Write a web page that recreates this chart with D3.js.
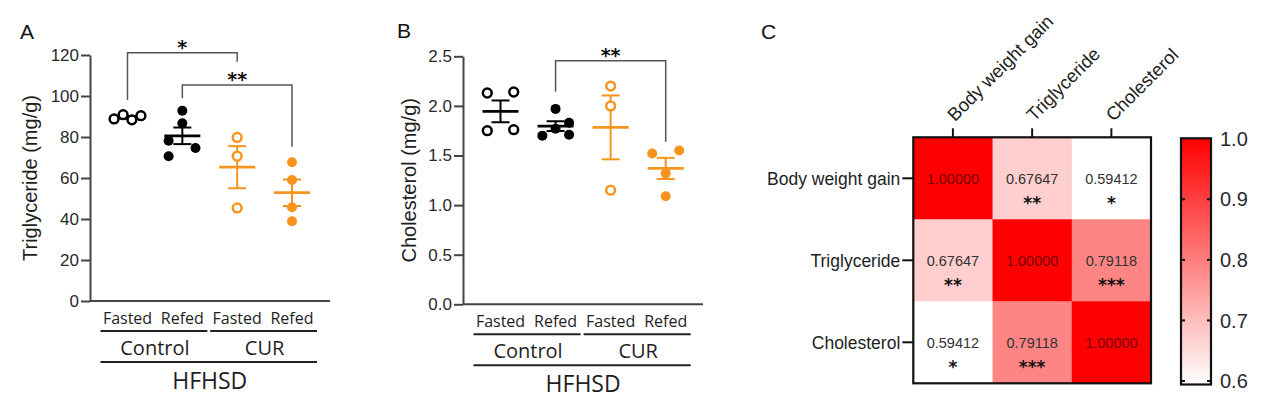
<!DOCTYPE html>
<html><head><meta charset="utf-8">
<script src="https://cdn.jsdelivr.net/npm/d3@7"></script>
<style>
html,body{margin:0;padding:0;background:#fff;}
svg{display:block;}
</style></head>
<body>
<svg id="chart" width="1272" height="410"></svg>
<script>
// ---------------- DATA ----------------
const groupLabels = ["Fasted", "Refed", "Fasted", "Refed"];
const treatmentLabels = ["Control", "CUR"];
const dietLabel = "HFHSD";

// Panel A: Triglyceride (mg/g)
const tgControlFasted = [88.8, 90.9, 88.4, 90.4];
const tgControlRefed  = [92.8, 86.7, 78.2, 74.6, 70.6];
const tgCurFasted     = [79.8, 70.6, 45.4];
const tgCurRefed      = [67.7, 59.0, 45.7, 38.9];
const tgTicks = [0, 20, 40, 60, 80, 100, 120];

// Panel B: Cholesterol (mg/g)
const chControlFasted = [2.13, 2.14, 1.75, 1.76];
const chControlRefed  = [1.97, 1.70, 1.77, 1.83, 1.71];
const chCurFasted     = [2.20, 2.00, 1.15];
const chCurRefed      = [1.52, 1.55, 1.32, 1.09];
const chTicks = [0, 0.5, 1.0, 1.5, 2.0, 2.5];

// Significance brackets: [fromGroup, toGroup, barValue, leftEnd, rightEnd, label]
const tgBrackets = [[0, 2, 121.1, 98.0, 116.7, "*"], [1, 3, 105.4, 98.9, 75.3, "**"]];
const chBrackets = [[1, 3, 2.456, 2.143, 1.639, "**"]];

// Panel C: correlation heatmap
const corrVars = ["Body weight gain", "Triglyceride", "Cholesterol"];
const corrValues = [
  [1.00000, 0.67647, 0.59412],
  [0.67647, 1.00000, 0.79118],
  [0.59412, 0.79118, 1.00000]
];
const corrStars = [
  ["", "**", "*"],
  ["**", "", "***"],
  ["*", "***", ""]
];
const colorTicks = [0.6, 0.7, 0.8, 0.9, 1.0];

// ---------------- LAYOUT / STYLE ----------------
const AX_FONT = "'Liberation Sans', Arial, Helvetica, sans-serif";
const CAT_FONT = "'Open Sans', 'Noto Sans', sans-serif";
const STAR_FONT = "'DejaVu Sans', sans-serif";
const ORANGE = "#f7941d";
const AXIS_COL = "#444";
const TXT = "#1e1e1e";
// jitter (fraction of group step) for the scatter layout
const jitterA = [[-0.245, -0.08, 0.08, 0.245], [0, 0, -0.25, 0.24, -0.25], [0, 0, 0], [0, 0, 0, 0]];
const jitterB = [[-0.24, 0.24, -0.24, 0.24], [0, -0.24, 0, 0.245, 0.245], [0, 0, 0], [-0.245, 0.245, 0, 0]];
const groupStyle = [
  {color: "#000", open: true},
  {color: "#000", open: false},
  {color: ORANGE, open: true},
  {color: ORANGE, open: false}
];

const svg = d3.select("#chart");

function panelLetter(txt, x, y) {
  svg.append("text").attr("x", x).attr("y", y).text(txt)
    .attr("font-family", AX_FONT).attr("font-size", 21).attr("fill", "#111");
}

function scatterPanel(cfg) {
  const g = svg.append("g");
  const y = d3.scaleLinear().domain(cfg.domain).range([cfg.y0, cfg.y1]);
  const x = d3.scalePoint().domain([0, 1, 2, 3]).range([cfg.xFirst, cfg.xLast]);
  const step = x.step();

  // y axis
  const ax = g.append("g").attr("transform", `translate(${cfg.axisX},0)`)
    .call(d3.axisLeft(y).tickValues(cfg.ticks).tickSize(9).tickSizeOuter(0).tickPadding(2).tickFormat(cfg.fmt));
  ax.select(".domain").attr("stroke", AXIS_COL).attr("stroke-width", 2);
  ax.selectAll(".tick line").attr("stroke", AXIS_COL).attr("stroke-width", 2);
  ax.selectAll(".tick text").attr("font-family", AX_FONT).attr("font-size", 17).attr("fill", "#2a2a2a");
  // x axis line
  g.append("line").attr("x1", cfg.axisX).attr("x2", cfg.axisXEnd)
    .attr("y1", y(cfg.domain[0])).attr("y2", y(cfg.domain[0]))
    .attr("stroke", AXIS_COL).attr("stroke-width", 2);

  // y label
  g.append("text")
    .attr("transform", `translate(${cfg.labelX},${(cfg.y0 + cfg.y1) / 2}) rotate(-90)`)
    .attr("text-anchor", "middle").attr("font-family", AX_FONT).attr("font-size", 20)
    .attr("fill", TXT).text(cfg.yLabel);

  // mean +/- SEM
  cfg.series.forEach((vals, i) => {
    const c = groupStyle[i].color;
    const m = d3.mean(vals);
    const sem = d3.deviation(vals) / Math.sqrt(vals.length);
    const cx = x(i);
    const eg = g.append("g").attr("stroke", c).attr("fill", "none");
    eg.append("line").attr("x1", cx).attr("x2", cx).attr("y1", y(m - sem)).attr("y2", y(m + sem)).attr("stroke-width", 2);
    eg.append("line").attr("x1", cx - 9).attr("x2", cx + 9).attr("y1", y(m + sem)).attr("y2", y(m + sem)).attr("stroke-width", 2);
    eg.append("line").attr("x1", cx - 9).attr("x2", cx + 9).attr("y1", y(m - sem)).attr("y2", y(m - sem)).attr("stroke-width", 2);
    eg.append("line").attr("x1", cx - 18).attr("x2", cx + 18).attr("y1", y(m)).attr("y2", y(m)).attr("stroke-width", 2.8);
  });

  // points
  cfg.series.forEach((vals, i) => {
    const st = groupStyle[i];
    g.selectAll(null).data(vals).enter().append("circle")
      .attr("cx", (d, j) => x(i) + cfg.jitter[i][j] * step)
      .attr("cy", d => y(d))
      .attr("r", st.open ? 4.4 : 5.0)
      .attr("fill", st.open ? "#fff" : st.color)
      .attr("stroke", st.open ? st.color : "none")
      .attr("stroke-width", st.open ? 2.5 : 0);
  });

  // brackets
  cfg.brackets.forEach(b => {
    const [a, c, top, le, re, lab] = b;
    g.append("path")
      .attr("d", `M${x(a)},${y(le)}V${y(top)}H${x(c)}V${y(re)}`)
      .attr("fill", "none").attr("stroke", "#555").attr("stroke-width", 1.5);
    g.append("text").attr("x", (x(a) + x(c)) / 2).attr("y", y(top) + 1.5)
      .attr("text-anchor", "middle").attr("font-family", STAR_FONT).attr("font-size", 19)
      .attr("font-weight", "bold").attr("fill", "#111").text(lab);
  });

  // category labels below
  const base = y(cfg.domain[0]);
  g.selectAll(null).data(groupLabels).enter().append("text")
    .attr("x", (d, i) => x(i)).attr("y", base + 23)
    .attr("text-anchor", "middle").attr("font-family", CAT_FONT).attr("font-size", 16)
    .attr("fill", TXT).text(d => d);
  treatmentLabels.forEach((t, k) => {
    const xa = x(2 * k), xb = x(2 * k + 1);
    g.append("line").attr("x1", xa - 27).attr("x2", xb + 25).attr("y1", base + 30).attr("y2", base + 30)
      .attr("stroke", "#222").attr("stroke-width", 2);
    g.append("text").attr("x", (xa + xb) / 2).attr("y", base + 54)
      .attr("text-anchor", "middle").attr("font-family", CAT_FONT).attr("font-size", 20)
      .attr("fill", TXT).text(t);
  });
  g.append("line").attr("x1", x(0) - 27).attr("x2", x(3) + 25).attr("y1", base + 61).attr("y2", base + 61)
    .attr("stroke", "#222").attr("stroke-width", 2);
  g.append("text").attr("x", (x(0) + x(3)) / 2).attr("y", base + 88)
    .attr("text-anchor", "middle").attr("font-family", CAT_FONT).attr("font-size", 23)
    .attr("fill", TXT).text(dietLabel);
}

// Panel A
panelLetter("A", 20, 39);
scatterPanel({
  domain: [0, 120], y0: 301, y1: 55, axisX: 90, axisXEnd: 330,
  xFirst: 127.5, xLast: 292, ticks: tgTicks, fmt: d3.format("d"),
  labelX: 37, yLabel: "Triglyceride (mg/g)",
  series: [tgControlFasted, tgControlRefed, tgCurFasted, tgCurRefed],
  jitter: jitterA, brackets: tgBrackets
});

// Panel B
panelLetter("B", 397, 38);
scatterPanel({
  domain: [0, 2.5], y0: 304.3, y1: 56.3, axisX: 463, axisXEnd: 703,
  xFirst: 500.5, xLast: 665.7, ticks: chTicks, fmt: d3.format(".1f"),
  labelX: 416, yLabel: "Cholesterol (mg/g)",
  series: [chControlFasted, chControlRefed, chCurFasted, chCurRefed],
  jitter: jitterB, brackets: chBrackets
});

// Panel C
panelLetter("C", 761, 39);
(function heatmap() {
  const g = svg.append("g");
  const hx = d3.scaleBand().domain(corrVars).range([913.3, 1151]);
  const hy = d3.scaleBand().domain(corrVars).range([137.3, 383.3]);
  const color = d3.scaleLinear().domain([0.6, 1.0]).range(["#ffffff", "#ff0000"]).clamp(true);

  const cells = [];
  corrValues.forEach((row, i) => row.forEach((v, j) => cells.push({r: corrVars[i], c: corrVars[j], v, s: corrStars[i][j]})));

  g.selectAll(null).data(cells).enter().append("rect")
    .attr("x", d => hx(d.c)).attr("y", d => hy(d.r))
    .attr("width", hx.bandwidth() + 0.5).attr("height", hy.bandwidth() + 0.5)
    .attr("fill", d => color(d.v));

  g.selectAll(null).data(cells).enter().append("text")
    .attr("x", d => hx(d.c) + hx.bandwidth() / 2)
    .attr("y", d => hy(d.r) + hy.bandwidth() / 2 + 1)
    .attr("dy", "0.35em").attr("text-anchor", "middle")
    .attr("font-family", AX_FONT).attr("font-size", 14.5)
    .attr("fill", d => d.v > 0.95 ? "#7a0000" : "#333")
    .text(d => d3.format(".5f")(d.v));

  g.selectAll(null).data(cells.filter(d => d.s)).enter().append("text")
    .attr("x", d => hx(d.c) + hx.bandwidth() / 2)
    .attr("y", d => hy(d.r) + hy.bandwidth() / 2 + 31)
    .attr("text-anchor", "middle").attr("font-family", STAR_FONT).attr("font-size", 17)
    .attr("font-weight", "bold").attr("fill", "#111").text(d => d.s);

  // border
  const [x0, x1] = hx.range(), [y0, y1] = hy.range();
  g.append("rect").attr("x", x0).attr("y", y0).attr("width", x1 - x0).attr("height", y1 - y0)
    .attr("fill", "none").attr("stroke", "#111").attr("stroke-width", 2.2);

  // top ticks + rotated labels
  corrVars.forEach(v => {
    const cx = hx(v) + hx.bandwidth() / 2;
    g.append("line").attr("x1", cx).attr("x2", cx).attr("y1", y0 - 9).attr("y2", y0)
      .attr("stroke", "#111").attr("stroke-width", 2);
    g.append("text").attr("transform", `translate(${cx + 2},${y0 - 15}) rotate(-45)`)
      .attr("font-family", AX_FONT).attr("font-size", 18.5).attr("fill", TXT).text(v);
    const cy = hy(v) + hy.bandwidth() / 2;
    g.append("line").attr("x1", x0 - 11).attr("x2", x0).attr("y1", cy).attr("y2", cy)
      .attr("stroke", "#111").attr("stroke-width", 2);
    g.append("text").attr("x", x0 - 13).attr("y", cy + 1).attr("dy", "0.35em")
      .attr("text-anchor", "end").attr("font-family", AX_FONT).attr("font-size", 17.5)
      .attr("fill", TXT).text(v);
  });

  // color bar
  const cbX = 1181, cbW = 30;
  const cs = d3.scaleLinear().domain([0.6, 1.0]).range([381, 138.7]);
  const defs = svg.append("defs");
  const grad = defs.append("linearGradient").attr("id", "cbgrad")
    .attr("x1", 0).attr("x2", 0).attr("y1", 1).attr("y2", 0);
  grad.append("stop").attr("offset", "0%").attr("stop-color", color(0.6));
  grad.append("stop").attr("offset", "100%").attr("stop-color", color(1.0));
  g.append("rect").attr("x", cbX).attr("y", 138.3).attr("width", cbW).attr("height", 384.5 - 138.3)
    .attr("fill", "url(#cbgrad)").attr("stroke", "#111").attr("stroke-width", 2.2);
  colorTicks.forEach(t => {
    if (t < 1.0) {
      g.append("line").attr("x1", cbX).attr("x2", cbX + 4).attr("y1", cs(t)).attr("y2", cs(t))
        .attr("stroke", "#111").attr("stroke-width", 2);
      g.append("line").attr("x1", cbX + cbW - 4).attr("x2", cbX + cbW).attr("y1", cs(t)).attr("y2", cs(t))
        .attr("stroke", "#111").attr("stroke-width", 2);
    }
    g.append("text").attr("x", cbX + cbW + 9).attr("y", cs(t)).attr("dy", "0.36em")
      .attr("font-family", AX_FONT).attr("font-size", 20).attr("fill", "#2a2a2a")
      .text(d3.format(".1f")(t));
  });
})();
</script>
</body></html>
